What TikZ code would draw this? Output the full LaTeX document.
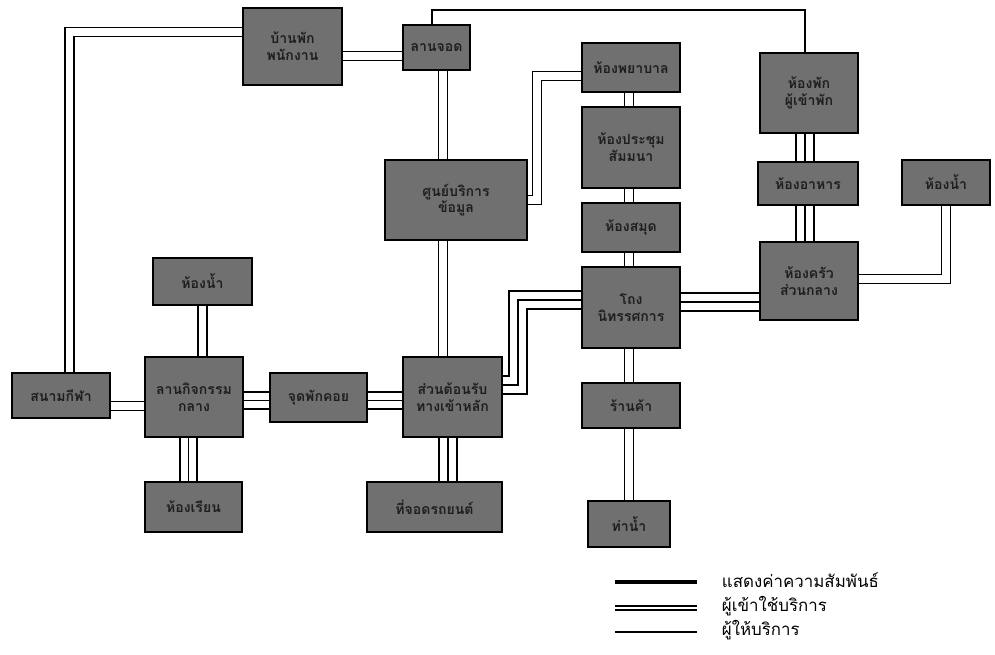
\documentclass[tikz,border=0pt]{standalone}
\usepackage{fontspec}
\newfontfamily\thaifont[Script=Thai]{Loma}
\usetikzlibrary{positioning}
\definecolor{CajaGris}{RGB}{112,112,112}
\definecolor{TextoCaja}{RGB}{30,30,30}

\begin{document}
\begin{tikzpicture}[x=0.025cm, y=-0.025cm,
    caja/.style={draw=black, line width=1.2pt, fill=CajaGris, text=TextoCaja,
      font=\thaifont\bfseries\fontsize{10}{12}\selectfont, align=center, inner sep=1pt},
    dims/.style 2 args={minimum width=#1*0.025cm, minimum height=#2*0.025cm},
    simple/.style={draw=black, line width=1pt},
    doble/.style={preaction={draw=black, line width=7.8pt}, draw=white, line width=5pt},
    triple/.style={preaction={draw=black, line width=14pt}, draw=white, line width=11.2pt,
      postaction={draw=black, line width=1.4pt}},
    leyenda/.style={font=\thaifont\fontsize{12}{14}\selectfont, anchor=west}
  ]
    \useasboundingbox (0,0) rectangle (995,654);

    % Cajas
    \node[caja, dims={99}{77}] (A) at (292.5,46.5) {บ้านพัก\\พนักงาน};
    \node[caja, dims={67}{45}] (B) at (436.5,47.5) {ลานจอด};
    \node[caja, dims={142}{80}] (C) at (456,200) {ศูนย์บริการ\\ข้อมูล};
    \node[caja, dims={98}{49}] (D) at (631,67.5) {ห้องพยาบาล};
    \node[caja, dims={98}{81}] (E) at (631,147.5) {ห้องประชุม\\สัมมนา};
    \node[caja, dims={98}{49}] (F) at (631,227.5) {ห้องสมุด};
    \node[caja, dims={98}{81}] (G) at (631,307.5) {โถง\\นิทรรศการ};
    \node[caja, dims={98}{45}] (H) at (631,405.5) {ร้านค้า};
    \node[caja, dims={82}{46}] (I) at (629,524) {ท่าน้ำ};
    \node[caja, dims={98}{80}] (J) at (809,93) {ห้องพัก\\ผู้เข้าพัก};
    \node[caja, dims={100}{43}] (K) at (808,183.5) {ห้องอาหาร};
    \node[caja, dims={88}{45}] (L) at (946,182.5) {ห้องน้ำ};
    \node[caja, dims={98}{78}] (M) at (809,281) {ห้องครัว\\ส่วนกลาง};
    \node[caja, dims={99}{47}] (N) at (202.5,281.5) {ห้องน้ำ};
    \node[caja, dims={98}{80}] (O) at (194,397) {ลานกิจกรรม\\กลาง};
    \node[caja, dims={98}{45}] (P) at (61,395.5) {สนามกีฬา};
    \node[caja, dims={97}{49}] (Q) at (318.5,397.5) {จุดพักคอย};
    \node[caja, dims={99}{80}] (R) at (452.5,397) {ส่วนต้อนรับ\\ทางเข้าหลัก};
    \node[caja, dims={97}{50}] (S) at (193.5,507) {ห้องเรียน};
    \node[caja, dims={135}{50}] (T) at (434.5,507) {ที่จอดรถยนต์};

    % Puntos de paso
    \coordinate (pa) at (69.5,32);
    \coordinate (ab) at (370,56);
    \coordinate (bj1) at (432,10);
    \coordinate (bj2) at (805,10);
    \coordinate (bc) at (443,0);
    \coordinate (cd1) at (537,200);
    \coordinate (cd2) at (537,76);
    \coordinate (col) at (629,0);
    \coordinate (gr1) at (518,300);
    \coordinate (gr2) at (518,385);
    \coordinate (gm) at (720,302);
    \coordinate (jk) at (805,0);
    \coordinate (ml) at (946,279);
    \coordinate (no) at (202.5,0);
    \coordinate (os) at (188.5,0);
    \coordinate (po) at (0,406);
    \coordinate (oq) at (0,400.5);
    \coordinate (rt) at (448,0);

    % Conexiones
    \draw[doble] (pa |- P.north) -- (pa) -- (pa -| A.west);
    \draw[doble] (ab -| A.east) -- (ab -| B.west);
    \draw[simple] (bj1 |- B.north) -- (bj1) -- (bj2) -- (bj2 |- J.north);
    \draw[doble] (bc |- B.south) -- (bc |- C.north);
    \draw[doble] (bc |- C.south) -- (bc |- R.north);
    \draw[doble] (cd1 -| C.east) -- (cd1) -- (cd2) -- (cd2 -| D.west);
    \draw[doble] (col |- D.south) -- (col |- E.north);
    \draw[doble] (col |- E.south) -- (col |- F.north);
    \draw[doble] (col |- F.south) -- (col |- G.north);
    \draw[doble] (col |- G.south) -- (col |- H.north);
    \draw[doble] (col |- H.south) -- (col |- I.north);
    \draw[triple] (gr1 -| G.west) -- (gr1) -- (gr2) -- (gr2 -| R.east);
    \draw[triple] (gm -| G.east) -- (gm -| M.west);
    \draw[triple] (jk |- M.north) -- (jk |- K.south);
    \draw[triple] (jk |- K.north) -- (jk |- J.south);
    \draw[doble] (ml -| M.east) -- (ml) -- (ml |- L.south);
    \draw[doble] (no |- N.south) -- (no |- O.north);
    \draw[triple] (os |- O.south) -- (os |- S.north);
    \draw[doble] (po -| P.east) -- (po -| O.west);
    \draw[triple] (oq -| O.east) -- (oq -| Q.west);
    \draw[triple] (oq -| Q.east) -- (oq -| R.west);
    \draw[triple] (rt |- R.south) -- (rt |- T.north);

    % Leyenda
    \draw[line width=2.8pt] (615,582) -- (697,582);
    \node[leyenda] (ley1) at (717,580) {แสดงค่าความสัมพันธ์};
    \draw[preaction={draw=black, line width=3.6pt}, draw=white, line width=1.2pt] (615,608) -- (697,608);
    \node[leyenda] (ley2) at (717,606) {ผู้เข้าใช้บริการ};
    \draw[line width=1.6pt] (615,632) -- (697,632);
    \node[leyenda] (ley3) at (717,630) {ผู้ให้บริการ};
  \end{tikzpicture}
\end{document}
